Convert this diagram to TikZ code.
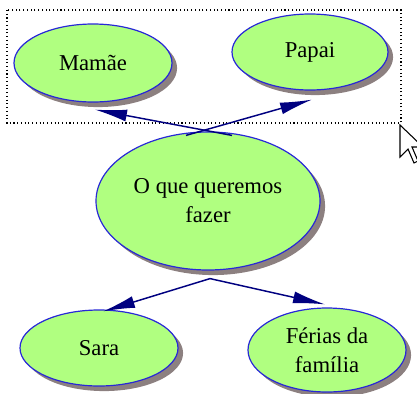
\documentclass[tikz,border=0pt]{standalone}
\usepackage{fontspec}
\setmainfont{Liberation Serif}
\usetikzlibrary{shapes.geometric,shadows,arrows.meta,calc}
\definecolor{bubble}{RGB}{176,255,128}
\definecolor{rim}{RGB}{40,40,215}
\definecolor{shade}{RGB}{140,128,128}
\definecolor{link}{RGB}{0,0,128}
\tikzset{
  bub/.style={ellipse, draw=rim, line width=0.9pt, fill=bubble, inner sep=0pt,
    align=center, font=\rmfamily\fontsize{17}{21.75}\selectfont,
    drop shadow={shadow xshift=3.8pt, shadow yshift=-3.8pt, fill=shade, opacity=1}},
  conn/.style={draw=link, line width=1.1pt, -{Latex[length=24pt,width=9pt]}},
}
\begin{document}
\begin{tikzpicture}[x=0.75pt,y=-0.75pt]
\useasboundingbox (0,0) rectangle (417,393);
\draw[dotted, line width=0.8pt] (7,10) rectangle (401,123);
\node[bub, minimum width=158*0.75pt, minimum height=78*0.75pt] (m) at (93,63) {Mamãe};
\node[bub, minimum width=156*0.75pt, minimum height=76*0.75pt] (p) at (310,52) {Papai};
\node[bub, minimum width=224*0.75pt, minimum height=138*0.75pt] (c) at (208,201) {O que queremos\\fazer};
\node[bub, minimum width=158*0.75pt, minimum height=76*0.75pt] (s) at (99,348) {Sara};
\node[bub, minimum width=158*0.75pt, minimum height=84*0.75pt] (f) at (327,350) {Férias da\\família};
\coordinate (ctopl) at ($(c.north)+(-22,4)$);
\coordinate (ctopr) at ($(c.north)+(24,4)$);
\coordinate (cbot) at ($(c.south)+(2,8)$);
\draw[conn] (ctopr) -- ($(m.south)+(2,7)$);
\draw[conn] (ctopl) -- ($(p.south)+(2,9)$);
\draw[conn] (cbot) -- ($(s.north)+(4,2)$);
\draw[conn] (cbot) -- ($(f.north)+(-2,-3)$);
\draw[fill=white, line width=0.8pt] (400,125) -- ++(0,32) -- ++(8,-8) -- ++(6,14) -- ++(4,-2) -- ++(-6,-14) -- ++(11,0) -- cycle;
\end{tikzpicture}
\end{document}
